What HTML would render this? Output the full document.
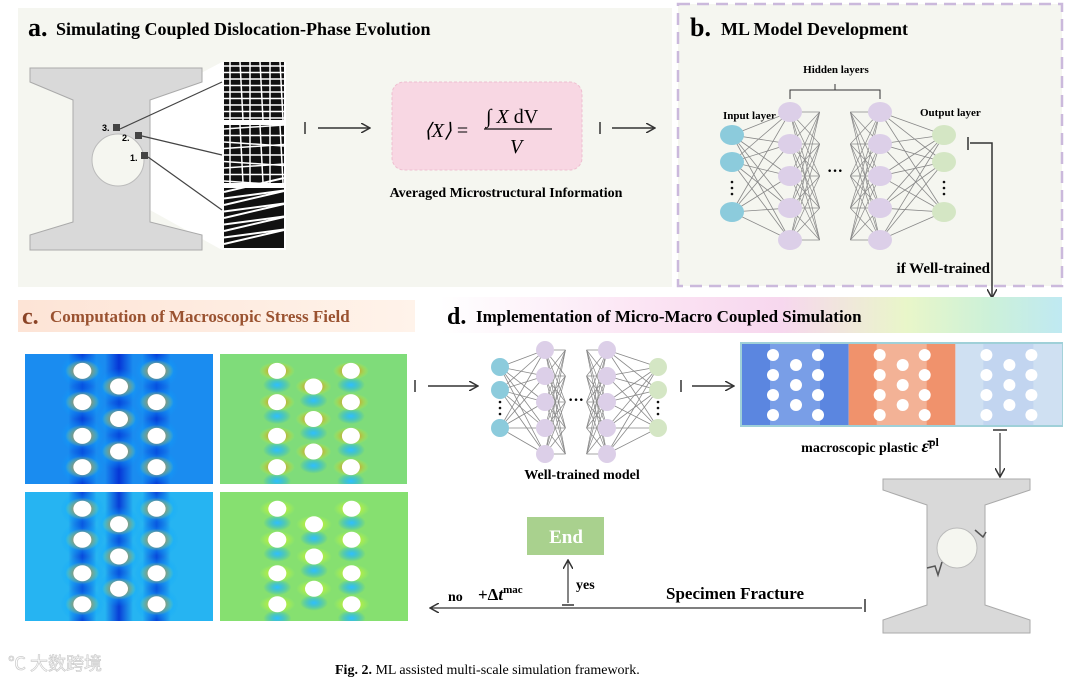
<!DOCTYPE html>
<html><head><meta charset="utf-8">
<style>
html,body{margin:0;padding:0;background:#fff;}
svg{display:block;font-family:"Liberation Serif",serif;}
.b{font-weight:bold;}
</style></head>
<body>
<svg id="s" width="1080" height="682" viewBox="0 0 1080 682" xmlns="http://www.w3.org/2000/svg">
<defs>
<marker id="ah" viewBox="0 0 10 10" refX="9" refY="5" markerWidth="10" markerHeight="10" markerUnits="userSpaceOnUse" orient="auto">
<path d="M0,0 L9,5 L0,10" fill="none" stroke="#333" stroke-width="1.5"/></marker>
<linearGradient id="gc" x1="0" x2="1"><stop offset="0" stop-color="#fde4d6"/><stop offset="1" stop-color="#fff3ea"/></linearGradient>
<linearGradient id="gd" x1="0" x2="1"><stop offset="0" stop-color="#ffffff"/><stop offset="0.35" stop-color="#fbe3f3"/><stop offset="0.55" stop-color="#f7d7ee"/><stop offset="0.75" stop-color="#e9f6c9"/><stop offset="0.88" stop-color="#cdf1d8"/><stop offset="1" stop-color="#bfe9f2"/></linearGradient>
<linearGradient id="vb" x1="0" x2="1"><stop offset="0" stop-color="#0020d0" stop-opacity="0"/><stop offset="0.5" stop-color="#0020d0" stop-opacity="0.8"/><stop offset="1" stop-color="#0020d0" stop-opacity="0"/></linearGradient>
<clipPath id="c1"><rect x="25" y="354" width="188" height="130"/></clipPath>
<clipPath id="c2"><rect x="220" y="354" width="187" height="130"/></clipPath>
<clipPath id="c3"><rect x="25" y="492" width="188" height="129"/></clipPath>
<clipPath id="c4"><rect x="220" y="492" width="188" height="129"/></clipPath>
</defs>
<!-- panel a -->
<rect x="18" y="8" width="654" height="279" fill="#f5f6f0"/>
<text x="28" y="36" class="b" font-size="26">a.</text>
<text x="56" y="35" class="b" font-size="18">Simulating Coupled Dislocation-Phase Evolution</text>
<polygon points="222,62 286,62 286,250 222,250 150,210 150,100" fill="#fff"/>
<path d="M30,68 L202,68 L202,82 L150,100 L150,222 L202,235 L202,250 L30,250 L30,235 L73,222 L73,100 L30,82 Z" fill="#d9d9d9" stroke="#aaa"/>
<circle cx="118" cy="160" r="26" fill="#f5f6f0" stroke="#bbb"/>
<g id="micro"></g>
<g stroke="#444" stroke-width="1.2"><line x1="120" y1="129" x2="222" y2="82"/><line x1="142" y1="136" x2="222" y2="155"/><line x1="148" y1="157" x2="222" y2="210"/></g>
<g fill="#444"><rect x="113" y="124" width="7" height="7"/><rect x="135" y="132" width="7" height="7"/><rect x="141" y="152" width="7" height="7"/></g>
<g font-family="Liberation Sans" font-size="9" class="b"><text x="102" y="131">3.</text><text x="122" y="141">2.</text><text x="130" y="161">1.</text></g>
<g stroke="#333" stroke-width="1.5"><line x1="305" y1="122" x2="305" y2="134"/><line x1="318" y1="128" x2="370" y2="128" marker-end="url(#ah)"/>
<line x1="600" y1="122" x2="600" y2="134"/><line x1="612" y1="128" x2="655" y2="128" marker-end="url(#ah)"/></g>
<rect x="392" y="82" width="190" height="88" rx="12" fill="#f8d7e3" stroke="#eebfd0" stroke-dasharray="3,2"/>
<text x="424" y="137" font-size="20" font-style="italic">⟨X⟩ <tspan font-style="normal">=</tspan></text>
<text x="486" y="123" font-size="20">∫ <tspan font-style="italic">X</tspan> dV</text>
<line x1="484" y1="129" x2="552" y2="129" stroke="#111" stroke-width="1.2"/>
<text x="510" y="153" font-size="20" font-style="italic">V</text>
<text x="506" y="197" text-anchor="middle" class="b" font-size="14">Averaged Microstructural Information</text>
<!-- panel b -->
<rect x="678" y="4" width="384" height="282" fill="#f5f6f0" stroke="#cbb9dc" stroke-width="2.5" stroke-dasharray="12,7"/>
<text x="690" y="36" class="b" font-size="26">b.</text>
<text x="721" y="35" class="b" font-size="18">ML Model Development</text>
<text x="836" y="73" text-anchor="middle" class="b" font-size="11">Hidden layers</text>
<path d="M790,99 V90 H880 V99 M835,90 V84" fill="none" stroke="#333"/>
<text x="723" y="119" class="b" font-size="11">Input layer</text>
<text x="920" y="116" class="b" font-size="11">Output layer</text>
<g id="netb"></g>
<path d="M968,137 V150 M970,143 H992 V298" fill="none" stroke="#333" stroke-width="1.5" marker-end="url(#ah)"/>
<text x="990" y="273" text-anchor="end" class="b" font-size="15">if Well-trained</text>
<!-- panel c -->
<rect x="18" y="300" width="397" height="32" fill="url(#gc)"/>
<text x="22" y="324" class="b" font-size="24" fill="#8a4326">c.</text>
<text x="50" y="322" class="b" font-size="17" fill="#9a5230">Computation of Macroscopic Stress Field</text>
<g id="heat"></g>
<g stroke="#333" stroke-width="1.5"><line x1="415" y1="380" x2="415" y2="392"/><line x1="428" y1="386" x2="478" y2="386" marker-end="url(#ah)"/>
<line x1="681" y1="380" x2="681" y2="392"/><line x1="692" y1="386" x2="734" y2="386" marker-end="url(#ah)"/></g>
<!-- panel d -->
<rect x="440" y="297" width="622" height="36" fill="url(#gd)"/>
<text x="447" y="324" class="b" font-size="24">d.</text>
<text x="476" y="322" class="b" font-size="17">Implementation of Micro-Macro Coupled Simulation</text>
<g id="netd"></g>
<text x="582" y="479" text-anchor="middle" class="b" font-size="14">Well-trained model</text>
<g id="strip"></g>
<text x="870" y="452" text-anchor="middle" class="b" font-size="14">macroscopic plastic <tspan font-size="18" font-style="italic">ε̄</tspan><tspan font-size="12" dy="-6">pl</tspan></text>
<line x1="993" y1="430" x2="1007" y2="430" stroke="#333" stroke-width="1.5"/>
<line x1="1000" y1="433" x2="1000" y2="477" stroke="#333" stroke-width="1.2" marker-end="url(#ah)"/>
<path d="M883,479 L1030,479 L1030,490 L985,505 L985,605 L1030,620 L1030,633 L883,633 L883,620 L927,605 L927,505 L883,490 Z" fill="#d9d9d9" stroke="#aaa"/>
<circle cx="957" cy="548" r="20" fill="#f5f6f0" stroke="#bbb"/>
<path d="M927,568 L935,566 L938,575 L942,562 M975,530 L983,537 L986,532" fill="none" stroke="#555" stroke-width="1.5"/>
<line x1="865" y1="599" x2="865" y2="612" stroke="#333" stroke-width="1.5"/>
<line x1="862" y1="608" x2="430" y2="608" stroke="#333" stroke-width="1.2" marker-end="url(#ah)"/>
<text x="735" y="599" text-anchor="middle" class="b" font-size="17">Specimen Fracture</text>
<text x="448" y="601" class="b" font-size="14">no</text>
<text x="478" y="600" class="b" font-size="17">+Δ<tspan font-style="italic">t</tspan><tspan font-size="11" dy="-7">mac</tspan></text>
<line x1="562" y1="605" x2="574" y2="605" stroke="#333" stroke-width="1.5"/>
<line x1="568" y1="603" x2="568" y2="560" stroke="#333" stroke-width="1.2" marker-end="url(#ah)"/>
<text x="576" y="589" class="b" font-size="14">yes</text>
<rect x="527" y="517" width="77" height="38" fill="#a9d18e"/>
<text x="566" y="543" text-anchor="middle" class="b" font-size="19" fill="#fff">End</text>
<text x="335" y="674" class="b" font-size="14">Fig. 2.  <tspan font-weight="normal">ML assisted multi-scale simulation framework.</tspan></text>
<text x="8" y="670" font-family="'Noto Sans CJK SC',sans-serif" font-size="18" fill="#fff" stroke="#ccc" stroke-width="0.7">℃ 大数跨境</text>
</svg>
<script>
var NS="http://www.w3.org/2000/svg";
function el(p,t,a){var e=document.createElementNS(NS,t);for(var k in a)e.setAttribute(k,a[k]);p.appendChild(e);return e;}
var mg=document.getElementById('micro');
[[62,122],[125,185],[188,250]].forEach(function(r,i){
 el(mg,'rect',{x:224,y:r[0],width:60,height:r[1]-r[0]-2,fill:'#111'});
 for(var k=0;k<9;k++){var yy=r[0]+4+k*6.5;
  if(i<2) el(mg,'line',{x1:224,y1:yy,x2:284,y2:yy+(i?((k%3)-1)*4:0),stroke:'#fff','stroke-width':1.5});
  else el(mg,'line',{x1:224,y1:yy,x2:284,y2:yy-14+(k%2)*6,stroke:'#fff','stroke-width':2});
 }
 if(i<2) for(var k=0;k<6;k++){var xx=230+k*10;el(mg,'line',{x1:xx,y1:r[0],x2:xx+(k%2)*3,y2:r[1]-2,stroke:'#fff','stroke-width':1.5});}
});
function drawNet(id,ix,hx1,hx2,ox,inY,hY,outY,rx,ry,dots){
 var g=document.getElementById(id);
 var L=function(xa,ya,xb,yb){ya.forEach(function(a){yb.forEach(function(b){el(g,'line',{x1:xa,y1:a,x2:xb,y2:b,stroke:'#888','stroke-width':0.8});});});};
 L(ix,inY,hx1,hY);L(hx2,hY,ox,outY);
 var cut=(hx2-hx1)*0.33;
 hY.forEach(function(a){hY.forEach(function(b){el(g,'line',{x1:hx1,y1:a,x2:hx1+cut,y2:b,stroke:'#888','stroke-width':0.7});el(g,'line',{x1:hx2-cut,y1:a,x2:hx2,y2:b,stroke:'#888','stroke-width':0.7});});});
 inY.forEach(function(y){el(g,'ellipse',{cx:ix,cy:y,rx:rx,ry:ry,fill:'#8ccbdc'});});
 hY.forEach(function(y){el(g,'ellipse',{cx:hx1,cy:y,rx:rx,ry:ry,fill:'#dccfe8'});el(g,'ellipse',{cx:hx2,cy:y,rx:rx,ry:ry,fill:'#dccfe8'});});
 outY.forEach(function(y){el(g,'ellipse',{cx:ox,cy:y,rx:rx,ry:ry,fill:'#d4e6c4'});});
 var t=el(g,'text',{x:(hx1+hx2)/2,y:dots.y,'text-anchor':'middle','font-size':16,'font-weight':'bold'});t.textContent='···';
 [ix,ox].forEach(function(x){for(var k=0;k<3;k++)el(g,'circle',{cx:x,cy:dots.v+k*6,r:1.3,fill:'#111'});});
}
drawNet('netb',732,790,880,944,[135,162,212],[112,144,176,208,240],[135,162,212],12,10,{y:176,v:182});
drawNet('netd',500,545,607,658,[367,390,428],[350,376,402,428,454],[367,390,428],9,9,{y:405,v:402});
var hg=document.getElementById('heat');
var defs=document.querySelector('defs');
function grad(id,c0,c1){var r=el(defs,'radialGradient',{id:id});el(r,'stop',{offset:'0',"stop-color":c0});el(r,'stop',{offset:'1',"stop-color":c1,"stop-opacity":0});}
grad('gr','#e0200a','#ffff00');grad('gb','#0010c0','#0040ff');grad('gy','#f5f000','#c0ff40');grad('gl','#30c0ff','#00a0ff');
function holes(x0,y0,w,h){var out=[];var cx=[0.305,0.5,0.7];
 [0.13,0.37,0.63,0.87].forEach(function(f){out.push([x0+w*cx[0],y0+h*f]);out.push([x0+w*cx[2],y0+h*f]);});
 [0.25,0.5,0.75].forEach(function(f){out.push([x0+w*cx[1],y0+h*f]);});return out;}
function heat(x0,y0,w,h,type,clip){
 var g=el(hg,'g',{'clip-path':'url(#'+clip+')'});
 el(g,'rect',{x:x0,y:y0,width:w,height:h,fill:type==0?'#1a8cf0':type==1?'#26b4f2':type==2?'#7fdc7a':'#86e070'});
 var H=holes(x0,y0,w,h);
 if(type<2){[0.305,0.5,0.7].forEach(function(f){el(g,'rect',{x:x0+w*f-14,y:y0,width:28,height:h,fill:'url(#vb)'});});}
 H.forEach(function(p){
  if(type<2){el(g,'ellipse',{cx:p[0],cy:p[1],rx:22,ry:18,fill:'url(#gl)'});
   el(g,'ellipse',{cx:p[0],cy:p[1],rx:17,ry:11,fill:'url(#gr)'});}
  else{el(g,'ellipse',{cx:p[0],cy:p[1]+14,rx:14,ry:8,fill:'url(#gl)'});el(g,'ellipse',{cx:p[0],cy:p[1],rx:18,ry:9,fill:type==2?'url(#gr)':'url(#gy)'});}
  el(g,'ellipse',{cx:p[0],cy:p[1],rx:9,ry:8,fill:'#fff'});
 });
}
heat(25,354,188,130,0,'c1');heat(220,354,187,130,2,'c2');heat(25,492,188,129,1,'c3');heat(220,492,188,129,3,'c4');
var sg=document.getElementById('strip');
el(sg,'rect',{x:741,y:343,width:321,height:83,fill:'none',stroke:'#9fd0d8','stroke-width':2});
var cols=['#5b86e0','#f0926c','#cfe0f2'];
for(var i=0;i<3;i++){var x0=742+i*106.7;el(sg,'rect',{x:x0,y:344,width:106.7,height:81,fill:cols[i]});
 el(sg,'rect',{x:x0+28,y:344,width:50,height:81,fill:i==0?'#86a8ea':(i==1?'#f4c0a8':'#bcd0f0'),opacity:0.7});
 var cx=[x0+31,x0+54,x0+76];
 [355,375,395,415].forEach(function(y){el(sg,'circle',{cx:cx[0],cy:y,r:6,fill:'#fff'});el(sg,'circle',{cx:cx[2],cy:y,r:6,fill:'#fff'});});
 [365,385,405].forEach(function(y){el(sg,'circle',{cx:cx[1],cy:y,r:6,fill:'#fff'});});
}
</script>
</body></html>
